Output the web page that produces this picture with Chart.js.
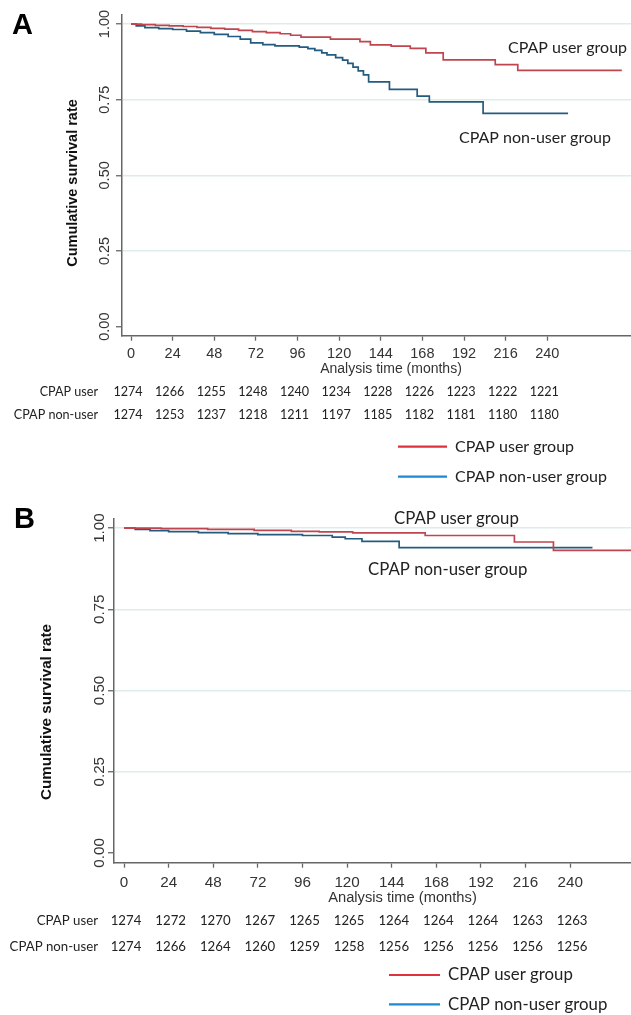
<!DOCTYPE html>
<html>
<head>
<meta charset="utf-8">
<script src="https://cdn.jsdelivr.net/npm/chart.js@4.4.1/dist/chart.umd.min.js"></script>
<style>
  html, body { margin: 0; padding: 0; background: #fff; overflow: hidden; }
  body { width: 631px; height: 1015px; position: relative; }
  canvas { position: absolute; left: 0; }
  #chartA { top: 0; }
  #chartB { top: 505px; }
</style>
</head>
<body>
<canvas id="chartA" width="680" height="505" style="width:680px;height:505px"></canvas>
<canvas id="chartB" width="710" height="510" style="width:710px;height:510px"></canvas>
<script>
// axis ticks shared by both panels
const xTicks = [0, 24, 48, 72, 96, 120, 144, 168, 192, 216, 240];
const yTicks = [0, 0.25, 0.5, 0.75, 1];
const groupLabels = ["CPAP user group", "CPAP non-user group"];
const riskRowLabels = ["CPAP user", "CPAP non-user"];

// Panel A - survival curves (months, cumulative survival)
const aUserTime = [0, 6, 14, 22, 30, 38, 46, 54, 62, 70, 78, 86, 92, 98, 115, 132, 138, 150, 161, 170, 180, 210, 223, 283];
const aUserSurv = [1, 0.998, 0.996, 0.994, 0.992, 0.989, 0.986, 0.983, 0.979, 0.975, 0.972, 0.968, 0.963, 0.957, 0.950, 0.942, 0.931, 0.927, 0.920, 0.905, 0.882, 0.866, 0.847, 0.847];
const aNonTime = [0, 3, 8, 16, 24, 32, 40, 48, 56, 63, 69, 76, 83, 97, 102, 106, 110, 113, 118, 122, 125, 128, 131, 134, 137, 149, 165, 172, 203, 252];
const aNonSurv = [1, 0.994, 0.988, 0.985, 0.982, 0.977, 0.972, 0.966, 0.959, 0.950, 0.938, 0.932, 0.928, 0.924, 0.919, 0.913, 0.905, 0.898, 0.889, 0.881, 0.870, 0.858, 0.845, 0.832, 0.809, 0.784, 0.762, 0.743, 0.705, 0.705];
// Panel A - number at risk
const aUserRisk = [1274, 1266, 1255, 1248, 1240, 1234, 1228, 1226, 1223, 1222, 1221];
const aNonRisk = [1274, 1253, 1237, 1218, 1211, 1197, 1185, 1182, 1181, 1180, 1180];

// Panel B - survival curves
const bUserTime = [0, 20, 45, 70, 90, 105, 123, 162, 210, 231, 283];
const bUserSurv = [1, 0.998, 0.996, 0.993, 0.990, 0.988, 0.985, 0.977, 0.957, 0.931, 0.931];
const bNonTime = [0, 6, 14, 24, 40, 56, 72, 96, 112, 119, 128, 148, 252];
const bNonSurv = [1, 0.996, 0.992, 0.989, 0.986, 0.983, 0.980, 0.977, 0.972, 0.967, 0.959, 0.940, 0.940];
// Panel B - number at risk
const bUserRisk = [1274, 1272, 1270, 1267, 1265, 1265, 1264, 1264, 1264, 1263, 1263];
const bNonRisk = [1274, 1266, 1264, 1260, 1259, 1258, 1256, 1256, 1256, 1256, 1256];

const curveColors = ["#c0454f", "#245b80"];
const legendColors = ["#e0323c", "#1b8ad2"];

function toPoints(times, surv) {
  return times.map((t, i) => ({ x: t, y: surv[i] }));
}

// draws rotated y labels, titles, at-risk table and legend
const textPlugin = {
  id: "kmText",
  afterDraw(chart, args, o) {
    const ctx = chart.ctx;
    const xs = chart.scales.x;
    const ys = chart.scales.y;
    const ca = chart.chartArea;
    const k = o.scale;
    ctx.save();
    ctx.fillStyle = "#333";

    // y tick labels, rotated like Stata
    ctx.font = (14.5 * k) + "px 'Liberation Sans', Arial, sans-serif";
    ctx.textAlign = "center";
    ctx.textBaseline = "middle";
    yTicks.forEach(v => {
      ctx.save();
      ctx.translate(o.yLabelX, ys.getPixelForValue(v));
      ctx.rotate(-Math.PI / 2);
      ctx.fillText(v.toFixed(2), 0, 0);
      ctx.restore();
    });

    // y title
    ctx.fillStyle = "#111";
    ctx.font = "bold " + (14.5 * k) + "px 'Liberation Sans', Arial, sans-serif";
    ctx.save();
    ctx.translate(o.yTitleX, o.yTitleY);
    ctx.rotate(-Math.PI / 2);
    ctx.fillText("Cumulative survival rate", 0, 0);
    ctx.restore();

    // x title
    ctx.fillStyle = "#333";
    ctx.font = (14 * k) + "px 'Liberation Sans', Arial, sans-serif";
    ctx.fillText("Analysis time (months)", (ca.left + ca.right) / 2, o.xTitleY);

    // panel letter
    ctx.fillStyle = "#000";
    ctx.font = "bold 29px 'Liberation Sans', Arial, sans-serif";
    ctx.textAlign = "left";
    ctx.textBaseline = "top";
    ctx.fillText(o.letter, o.letterX, o.letterY);

    // curve labels inside plot
    ctx.fillStyle = "#222";
    ctx.textBaseline = "middle";
    ctx.font = (16 * k) + "px Lato, 'Open Sans', sans-serif";
    ctx.fillText(groupLabels[0], o.userLabel[0], o.userLabel[1]);
    ctx.fillText(groupLabels[1], o.nonLabel[0], o.nonLabel[1]);

    // number at risk table
    ctx.font = (12.6 * k) + "px Lato, 'Open Sans', sans-serif";
    ctx.textAlign = "right";
    ctx.fillText(riskRowLabels[0], o.rowLabelX, o.rowY[0]);
    ctx.fillText(riskRowLabels[1], o.rowLabelX, o.rowY[1]);
    ctx.textAlign = "center";
    o.risk.forEach((row, r) => {
      row.forEach((n, i) => {
        ctx.fillText(String(n), xs.getPixelForValue(xTicks[i]) + o.riskShift, o.rowY[r]);
      });
    });

    // legend
    ctx.textAlign = "left";
    ctx.font = (16 * k) + "px Lato, 'Open Sans', sans-serif";
    groupLabels.forEach((lab, i) => {
      const y = o.legendY[i];
      ctx.strokeStyle = legendColors[i];
      ctx.lineWidth = 2.2;
      ctx.beginPath();
      ctx.moveTo(o.legendX[0], y);
      ctx.lineTo(o.legendX[1], y);
      ctx.stroke();
      ctx.fillStyle = "#222";
      ctx.fillText(lab, o.legendX[2], y);
    });
    ctx.restore();
  }
};

function makePanel(id, user, non, lay) {
  const ctx = document.getElementById(id).getContext("2d");
  return new Chart(ctx, {
    type: "line",
    data: {
      datasets: [
        { label: groupLabels[0], data: user, borderColor: curveColors[0], borderWidth: 1.7, stepped: "before", pointRadius: 0, fill: false },
        { label: groupLabels[1], data: non, borderColor: curveColors[1], borderWidth: 1.7, stepped: "before", pointRadius: 0, fill: false }
      ]
    },
    options: {
      responsive: false,
      animation: false,
      layout: { padding: { left: 0, top: lay.top, right: lay.right, bottom: 0 } },
      plugins: {
        legend: { display: false },
        tooltip: { enabled: false },
        kmText: lay.text
      },
      scales: {
        x: {
          type: "linear",
          min: lay.xMin,
          max: 305,
          afterBuildTicks: s => { s.ticks = xTicks.map(v => ({ value: v })); },
          afterFit: s => { s.height = lay.xHeight; },
          ticks: {
            autoSkip: false,
            maxRotation: 0,
            color: "#333",
            padding: lay.tickPad,
            font: { family: "'Liberation Sans', Arial, sans-serif", size: 14.5 * lay.text.scale }
          },
          grid: { drawOnChartArea: false, drawTicks: true, tickLength: 5, tickColor: "#666", tickWidth: 1.3 },
          border: { display: true, color: "#666", width: 1.5 }
        },
        y: {
          type: "linear",
          min: -0.03,
          max: 1.03,
          afterBuildTicks: s => { s.ticks = yTicks.map(v => ({ value: v })); },
          afterFit: s => { s.width = lay.yWidth; },
          ticks: { display: false },
          grid: {
            color: c => (c.tick && c.tick.value === 0) ? "rgba(0,0,0,0)" : "#deecec",
            lineWidth: 1.5,
            drawTicks: true,
            tickLength: 6,
            tickColor: "#666",
            tickWidth: 1.3
          },
          border: { display: true, color: "#666", width: 1.5 }
        }
      }
    },
    plugins: [textPlugin]
  });
}

makePanel("chartA", toPoints(aUserTime, aUserSurv), toPoints(aNonTime, aNonSurv), {
  top: 15, right: 20, xHeight: 169.3, yWidth: 122, xMin: -5.2, tickPad: 5,
  text: {
    scale: 1, letter: "A", letterX: 12, letterY: 11,
    yLabelX: 105, yTitleX: 73, yTitleY: 183, xTitleY: 369,
    userLabel: [508, 48], nonLabel: [459, 138],
    rowLabelX: 98, rowY: [391.7, 415], riskShift: -3,
    risk: [aUserRisk, aNonRisk],
    legendX: [398, 447, 455], legendY: [446.7, 476.7]
  }
});

makePanel("chartB", toPoints(bUserTime, bUserSurv), toPoints(bNonTime, bNonSurv), {
  top: 13.3, right: 19, xHeight: 152.3, yWidth: 114, xMin: -5.4, tickPad: 6,
  text: {
    scale: 1.05, letter: "B", letterX: 14, letterY: 0,
    yLabelX: 100, yTitleX: 47, yTitleY: 207, xTitleY: 393.3,
    userLabel: [394, 14], nonLabel: [368, 65],
    rowLabelX: 98, rowY: [416, 441.7], riskShift: 2,
    risk: [bUserRisk, bNonRisk],
    legendX: [389, 440, 448], legendY: [470, 499.3]
  }
});
</script>
</body>
</html>
